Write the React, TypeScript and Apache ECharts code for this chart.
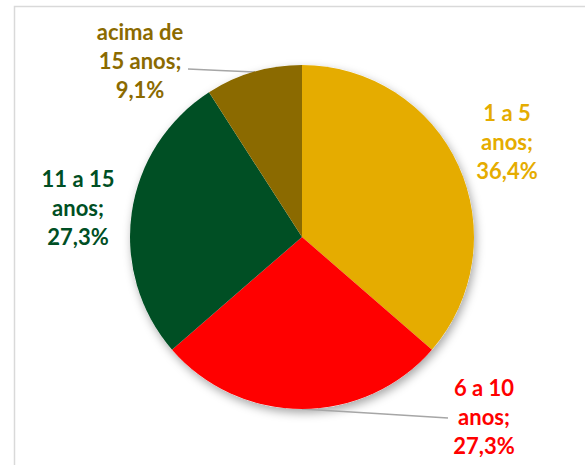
import React, { useEffect, useRef } from "react";
import * as echarts from "echarts";

const categories = ["1 a 5\nanos", "6 a 10\nanos", "11 a 15\nanos", "acima de\n15 anos"];
const values = [36.4, 27.3, 27.3, 9.1];
const colors = ["#E5AC00", "#FF0000", "#004F24", "#8B6A00"];

// label placement (center of text block) and leader lines
const labelPos: [number, number][] = [
  [507, 141],
  [484, 416],
  [78, 207],
  [140, 60],
];
const leaderLines: ([number, number][] | null)[] = [
  null,
  [[302, 409], [376, 413.5], [448, 418]],
  null,
  [[255, 72], [220, 70.5], [188, 69]],
];

const CX = 302;
const CY = 237;
const R = 172;

export default function App() {
  const ref = useRef<HTMLDivElement>(null);
  useEffect(() => {
    document.body.style.margin = "0";
    const chart = echarts.init(ref.current!, undefined, { renderer: "svg" });
    chart.setOption({
      animation: false,
      backgroundColor: "#ffffff",
      graphic: [
        {
          type: "rect",
          shape: { x: 14.5, y: 6.5, width: 700, height: 600 },
          style: { fill: "none", stroke: "#d9d9d9", lineWidth: 1.5 },
          silent: true,
          z: 0,
        },
      ],
      series: [
        {
          type: "pie",
          silent: true,
          center: [CX, CY],
          radius: R,
          z: 1,
          label: { show: false },
          labelLine: { show: false },
          itemStyle: {
            color: "#ffffff",
            shadowBlur: 10,
            shadowOffsetX: 2,
            shadowOffsetY: 4,
            shadowColor: "rgba(0,0,0,0.35)",
          },
          data: [{ value: 1, name: "bg" }],
        },
        {
          type: "pie",
          center: [CX, CY],
          radius: R,
          startAngle: 90,
          clockwise: true,
          z: 2,
          itemStyle: { borderWidth: 0 },
          label: {
            show: true,
            position: "outside",
            fontFamily: "Lato",
            fontWeight: "bold",
            fontSize: 22,
            lineHeight: 29,
            align: "center",
            formatter: (p: any) =>
              `${p.name};\n${Number(p.value).toFixed(1).replace(".", ",")}%`,
          },
          labelLine: {
            show: true,
            lineStyle: { color: "#a6a6a6", width: 1.5 },
          },
          labelLayout: (params: any) => {
            const i = params.dataIndex;
            const [x, y] = labelPos[i];
            const res: any = {
              x,
              y,
              align: "center",
              verticalAlign: "middle",
            };
            if (leaderLines[i]) res.labelLinePoints = leaderLines[i];
            return res;
          },
          data: categories.map((name, i) => ({
            name,
            value: values[i],
            itemStyle: { color: colors[i] },
            label: { color: colors[i] },
            labelLine: { show: leaderLines[i] !== null },
          })),
        },
      ],
    });
    return () => chart.dispose();
  }, []);
  return <div ref={ref} style={{ width: 585, height: 465 }} />;
}
